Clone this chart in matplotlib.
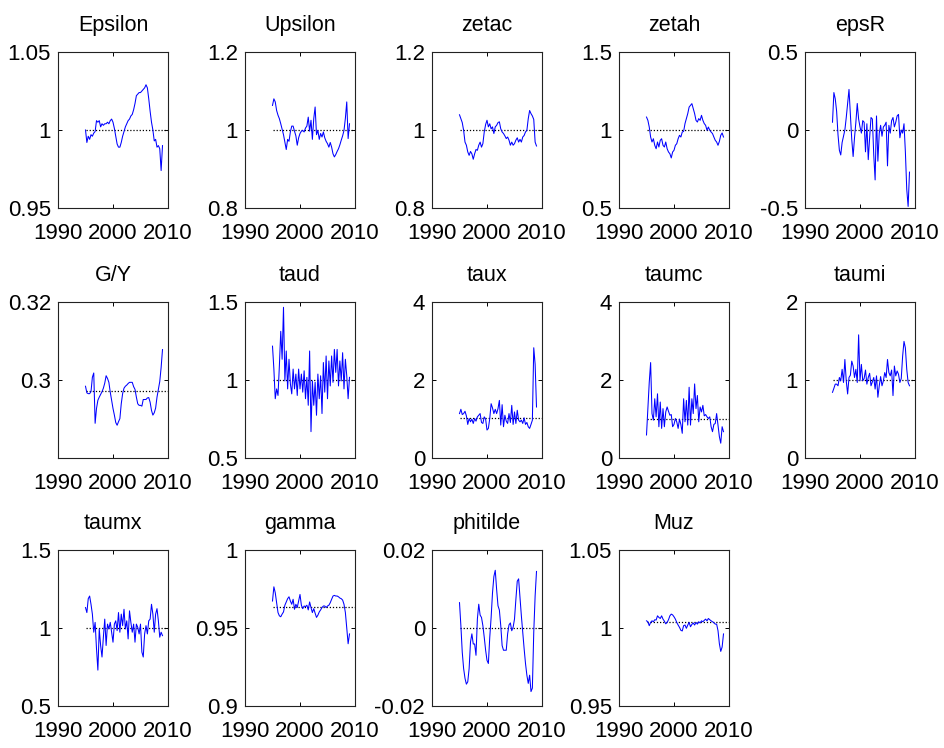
import numpy as np
import matplotlib
matplotlib.use("Agg")
import matplotlib.pyplot as plt

# quarterly sample, 57 obs starting 1995
start_year = 1995.0
n_obs = 57
t = start_year + 0.25 * np.arange(n_obs)

Epsilon = [1.000, 0.992, 0.996, 0.994, 0.997, 0.996, 0.998, 0.999, 1.006, 1.005,
           1.006, 1.002, 1.004, 1.003, 1.004, 1.004, 1.005, 1.004, 1.006, 1.007,
           1.005, 1.001, 0.996, 0.991, 0.989, 0.989, 0.992, 0.996, 0.999, 1.002,
           1.004, 1.006, 1.007, 1.009, 1.010, 1.013, 1.017, 1.022, 1.023, 1.024,
           1.024, 1.025, 1.026, 1.027, 1.029, 1.027, 1.020, 1.012, 1.005, 1.000,
           0.993, 0.994, 0.989, 0.990, 0.988, 0.974, 0.990]
Upsilon = [1.063, 1.080, 1.072, 1.050, 1.038, 1.029, 1.016, 1.002, 0.988, 0.969,
           0.950, 0.976, 0.971, 0.995, 1.010, 1.010, 0.997, 0.985, 0.961, 0.980,
           0.991, 0.997, 0.999, 0.995, 1.005, 1.010, 1.033, 0.997, 1.025, 0.976,
           1.029, 1.059, 0.988, 0.999, 0.976, 0.991, 0.982, 0.995, 0.980, 0.971,
           0.965, 0.956, 0.968, 0.956, 0.939, 0.931, 0.937, 0.945, 0.952, 0.962,
           0.974, 0.985, 0.999, 1.030, 1.072, 0.978, 1.016]
zetac = [1.039, 1.029, 1.019, 0.999, 0.969, 0.961, 0.944, 0.935, 0.945, 0.939,
         0.925, 0.939, 0.950, 0.948, 0.961, 0.969, 0.956, 0.965, 0.995, 1.014,
         1.025, 1.008, 1.016, 1.003, 1.008, 0.991, 1.008, 1.012, 1.019, 1.021,
         1.003, 0.995, 0.991, 0.985, 0.978, 0.982, 0.974, 0.961, 0.969, 0.961,
         0.965, 0.974, 0.980, 0.969, 0.976, 0.969, 0.982, 0.986, 0.995, 0.999,
         1.029, 1.050, 1.042, 1.036, 1.027, 0.969, 0.959]
zetah = [1.083, 1.062, 1.019, 0.955, 0.923, 0.944, 0.902, 0.880, 0.923, 0.891,
         0.934, 0.944, 0.902, 0.891, 0.923, 0.880, 0.859, 0.848, 0.821, 0.859,
         0.870, 0.902, 0.912, 0.944, 0.966, 0.955, 0.987, 0.991, 1.041, 1.073,
         1.105, 1.147, 1.158, 1.169, 1.137, 1.105, 1.062, 1.051, 1.073, 1.062,
         1.094, 1.062, 1.041, 1.030, 0.998, 1.019, 0.998, 0.987, 0.977, 0.955,
         0.934, 0.923, 0.902, 0.927, 0.966, 0.981, 0.955]
epsR = [0.05, 0.24, 0.20, 0.12, -0.03, -0.13, -0.16, -0.08, -0.04, 0.00,
        0.08, 0.17, 0.26, 0.10, -0.06, -0.17, -0.05, 0.05, 0.17, 0.07,
        0.02, -0.02, 0.06, 0.05, -0.14, 0.04, -0.19, -0.05, 0.08, 0.07,
        -0.16, -0.32, 0.09, -0.20, -0.02, 0.03, -0.04, 0.02, 0.03, 0.05,
        -0.23, 0.03, -0.02, 0.06, 0.08, 0.02, 0.05, 0.09, 0.10, -0.05,
        0.00, -0.02, 0.04, -0.14, -0.38, -0.49, -0.27]
GY = [0.2984, 0.2967, 0.2965, 0.2965, 0.2970, 0.3007, 0.3018, 0.2889, 0.2927, 0.2948,
      0.2956, 0.2963, 0.2970, 0.2979, 0.2992, 0.3011, 0.3004, 0.2994, 0.2969, 0.2948,
      0.2927, 0.2910, 0.2891, 0.2884, 0.2893, 0.2901, 0.2939, 0.2965, 0.2979, 0.2984,
      0.2987, 0.2991, 0.2994, 0.2994, 0.2994, 0.2983, 0.2976, 0.2956, 0.2939, 0.2935,
      0.2935, 0.2933, 0.2950, 0.2950, 0.2950, 0.2954, 0.2955, 0.2943, 0.2922, 0.2910,
      0.2916, 0.2928, 0.2956, 0.2976, 0.2996, 0.3032, 0.3078]
taud = [1.217, 1.070, 0.880, 0.943, 0.901, 1.091, 1.312, 1.133, 1.466, 0.994,
        1.186, 0.943, 1.133, 0.975, 0.911, 1.070, 0.943, 1.038, 0.901, 1.070,
        0.943, 1.038, 0.922, 1.059, 0.880, 1.017, 0.838, 1.186, 0.669, 0.994,
        0.838, 0.985, 0.774, 1.038, 0.880, 1.027, 0.785, 1.112, 0.922, 1.154,
        0.880, 1.122, 0.962, 1.154, 0.985, 1.196, 1.049, 1.196, 0.962, 1.122,
        0.994, 1.175, 0.943, 1.133, 1.027, 0.880, 1.017]
taux = [1.139, 1.249, 1.114, 1.139, 1.198, 1.080, 0.861, 1.013, 0.928, 0.996,
        0.886, 1.013, 0.945, 1.055, 1.097, 1.139, 0.911, 0.886, 1.055, 0.996,
        0.717, 0.759, 1.013, 1.392, 1.283, 1.139, 1.249, 1.139, 1.266, 1.477,
        0.844, 1.367, 0.802, 1.097, 0.945, 0.886, 1.139, 0.911, 1.350, 0.861,
        1.181, 0.886, 1.224, 0.970, 0.928, 0.970, 0.886, 1.030, 0.861, 0.911,
        0.802, 0.759, 0.861, 0.970, 2.827, 2.405, 1.308]
taumc = [0.591, 1.266, 1.941, 2.447, 1.139, 0.970, 1.519, 1.055, 1.646, 0.802,
         1.435, 0.759, 1.266, 0.802, 1.181, 1.308, 1.198, 1.097, 1.114, 0.802,
         0.861, 1.013, 0.928, 0.759, 0.996, 0.861, 0.633, 1.519, 0.928, 1.477,
         0.844, 1.814, 0.844, 1.519, 1.139, 1.899, 1.266, 1.603, 0.928, 1.308,
         1.181, 1.350, 1.080, 1.114, 1.055, 1.013, 1.055, 0.802, 0.675, 0.861,
         0.886, 1.139, 0.844, 0.549, 0.380, 0.802, 0.675]
taumi = [0.842, 0.893, 0.947, 0.947, 0.926, 1.032, 0.989, 1.137, 0.968, 1.263,
         0.989, 0.821, 1.032, 1.061, 1.242, 1.179, 1.032, 1.137, 0.968, 1.579,
         0.989, 1.200, 0.989, 1.019, 1.128, 0.947, 1.032, 1.086, 0.926, 0.977,
         1.032, 0.884, 1.053, 0.779, 0.926, 1.044, 0.926, 0.989, 1.095, 1.032,
         1.263, 1.095, 1.053, 1.128, 0.800, 1.179, 1.053, 1.116, 1.074, 0.968,
         1.019, 1.305, 1.495, 1.411, 1.137, 0.968, 0.926]
taumx = [1.131, 1.099, 1.188, 1.205, 1.152, 1.089, 0.973, 1.036, 0.867, 0.730,
         0.994, 0.888, 0.814, 0.941, 1.057, 0.888, 1.025, 0.994, 1.036, 0.973,
         0.909, 1.025, 1.046, 0.983, 1.099, 0.973, 1.089, 1.015, 1.120, 0.994,
         1.046, 0.930, 1.110, 1.036, 0.973, 1.025, 0.909, 1.025, 1.004, 0.962,
         1.025, 0.846, 0.814, 0.962, 1.015, 0.962, 1.046, 1.057, 1.152, 1.089,
         0.973, 1.089, 1.124, 1.046, 0.941, 0.973, 0.951]
gamma = [0.9673, 0.9764, 0.9726, 0.9662, 0.9599, 0.9578, 0.9572, 0.9589, 0.9603, 0.9646,
         0.9667, 0.9688, 0.9700, 0.9673, 0.9652, 0.9684, 0.9620, 0.9652, 0.9631, 0.9673,
         0.9715, 0.9646, 0.9624, 0.9641, 0.9637, 0.9646, 0.9616, 0.9667, 0.9631, 0.9599,
         0.9624, 0.9595, 0.9568, 0.9582, 0.9603, 0.9616, 0.9631, 0.9641, 0.9641, 0.9631,
         0.9641, 0.9646, 0.9662, 0.9684, 0.9705, 0.9709, 0.9705, 0.9705, 0.9700, 0.9692,
         0.9688, 0.9679, 0.9652, 0.9599, 0.9500, 0.9399, 0.9462]
phitilde = [0.0065, 0.0006, -0.0062, -0.0104, -0.0129, -0.0144, -0.0138, -0.0104, -0.0036, -0.0015,
            -0.0041, -0.0041, -0.0070, 0.0023, 0.0061, 0.0033, 0.0027, 0.0006, -0.0024, -0.0057,
            -0.0083, -0.0091, -0.0024, 0.0027, 0.0090, 0.0132, 0.0148, 0.0099, 0.0057, 0.0046,
            0.0006, -0.0045, -0.0057, -0.0057, -0.0057, -0.0015, 0.0008, 0.0013, -0.0007, 0.0002,
            0.0023, 0.0073, 0.0120, 0.0126, 0.0078, 0.0031, -0.0011, -0.0053, -0.0091, -0.0121,
            -0.0142, -0.0121, -0.0163, -0.0154, -0.0011, 0.0082, 0.0145]
Muz = [1.0046, 1.0040, 1.0015, 1.0036, 1.0046, 1.0040, 1.0053, 1.0051, 1.0078, 1.0068,
       1.0061, 1.0078, 1.0057, 1.0044, 1.0027, 1.0036, 1.0053, 1.0078, 1.0089, 1.0084,
       1.0072, 1.0057, 1.0036, 1.0019, 1.0004, 0.9985, 0.9981, 1.0015, 1.0019, 0.9998,
       1.0019, 1.0036, 1.0008, 1.0023, 1.0032, 1.0019, 1.0036, 1.0025, 1.0040, 1.0032,
       1.0046, 1.0040, 1.0049, 1.0057, 1.0046, 1.0061, 1.0053, 1.0046, 1.0040, 1.0034,
       1.0025, 1.0025, 0.9983, 0.9899, 0.9850, 0.9878, 0.9962]

titles = ["Epsilon", "Upsilon", "zetac", "zetah", "epsR",
          "G/Y", "taud", "taux", "taumc", "taumi",
          "taumx", "gamma", "phitilde", "Muz"]
series = [Epsilon, Upsilon, zetac, zetah, epsR,
          GY, taud, taux, taumc, taumi,
          taumx, gamma, phitilde, Muz]
steady = [1.0, 1.0, 1.0, 1.0, 0.0,
          0.2973, 1.0, 1.02, 1.0, 1.0,
          1.0, 0.9635, 0.0, 1.004]
ylims = [(0.95, 1.05), (0.8, 1.2), (0.8, 1.2), (0.5, 1.5), (-0.5, 0.5),
         (0.28, 0.32), (0.5, 1.5), (0, 4), (0, 4), (0, 2),
         (0.5, 1.5), (0.9, 1.0), (-0.02, 0.02), (0.95, 1.05)]
yticklabels = [["0.95", "1", "1.05"], ["0.8", "1", "1.2"], ["0.8", "1", "1.2"],
               ["0.5", "1", "1.5"], ["-0.5", "0", "0.5"], ["", "0.3", "0.32"],
               ["0.5", "1", "1.5"], ["0", "2", "4"], ["0", "2", "4"], ["0", "1", "2"],
               ["0.5", "1", "1.5"], ["0.9", "0.95", "1"], ["-0.02", "0", "0.02"],
               ["0.95", "1", "1.05"]]
xticks = [1990, 2000, 2010]

plt.rcParams["font.family"] = ["Liberation Sans", "DejaVu Sans"]
tick_fs = 16
title_fs = 15.5

fig = plt.figure(figsize=(9.44, 7.48), dpi=100)

# MATLAB-like subplot grid (pixel positions from the reference)
W, H = 944.0, 748.0
lefts = [58, 245, 432, 619, 805]
tops = [52, 302, 550]
aw, ah = 110, 156

for i, name in enumerate(titles):
    r, c = divmod(i, 5)
    ax = fig.add_axes([lefts[c] / W, 1 - (tops[r] + ah) / H, aw / W, ah / H])
    lo, hi = ylims[i]
    ax.plot([t[0], 2010], [steady[i], steady[i]], color="k", lw=0.9,
            ls=(0, (1, 1.5)))
    ax.plot(t, series[i], color="#0000ff", lw=0.75)
    ax.set_xlim(1990, 2010)
    ax.set_ylim(lo, hi)
    ax.set_xticks(xticks)
    ax.set_xticklabels([str(x) for x in xticks])
    ax.set_yticks([lo, (lo + hi) / 2, hi])
    ax.set_yticklabels(yticklabels[i])
    ax.tick_params(direction="in", length=3, width=0.7, top=True, right=True,
                   labelsize=tick_fs, colors="k")
    ax.tick_params(axis="x", pad=11)
    ax.tick_params(axis="y", pad=5)
    for sp in ax.spines.values():
        sp.set_linewidth(0.8)
        sp.set_color("#222222")
    ax.set_title(name, fontsize=title_fs, pad=15)

fig.savefig("out.png", dpi=100)
